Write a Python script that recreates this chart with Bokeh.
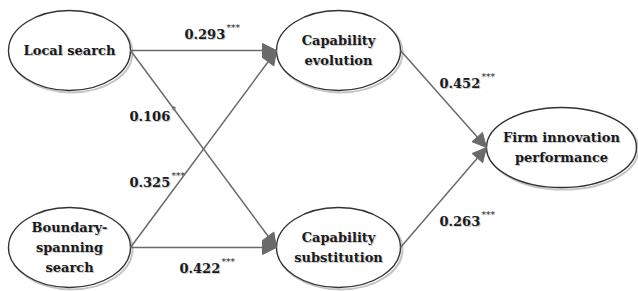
from bokeh.plotting import figure
from bokeh.models import Range1d, Arrow, NormalHead
from bokeh.core.properties import value
from bokeh.embed import file_html
from bokeh.resources import INLINE

# ---- data ----
nodes = ["Local search", "Boundary-\nspanning\nsearch", "Capability\nevolution",
         "Capability\nsubstitution", "Firm innovation\nperformance"]
edge_src = [0, 0, 1, 1, 2, 3]
edge_dst = [2, 3, 2, 3, 4, 4]
coef = ["0.293", "0.106", "0.325", "0.422", "0.452", "0.263"]
sig = ["***", "*", "***", "***", "***", "***"]

# ---- layout (pixel-like units, y downward) ----
node_x = [69, 69, 338, 338, 561]
node_y = [50, 247, 50, 247, 147]
node_w = [122, 122, 124, 124, 150]
node_h = [80, 80, 80, 80, 80]
label_x = [184, 129, 129, 179, 439, 439]
label_y = [33, 115, 181, 267, 82, 220]

FONT = value("DejaVu Serif")
TXT = "#1a1a1a"
SHADOW = "#cccccc"
LINE = "#6a6a6a"

p = figure(width=638, height=291, output_backend="svg", toolbar_location=None,
           x_range=Range1d(0, 638), y_range=Range1d(291, 0), min_border=0)
p.axis.visible = False
p.grid.visible = False
p.outline_line_color = None
p.background_fill_color = "white"

# ellipse shadows and ellipses
p.ellipse(x=[x + 2 for x in node_x], y=[y + 2 for y in node_y], width=node_w, height=node_h,
          fill_color=None, line_color="#c4c4c4", line_width=2)
p.ellipse(x=node_x, y=node_y, width=node_w, height=node_h,
          fill_color="white", line_color="#333333", line_width=1.4)

# arrows
for s, d in zip(edge_src, edge_dst):
    xs = node_x[s] + node_w[s] / 2
    ys = node_y[s]
    xe = node_x[d] - node_w[d] / 2
    ye = node_y[d]
    p.add_layout(Arrow(end=NormalHead(size=14, fill_color=LINE, line_color=LINE),
                       x_start=xs, y_start=ys, x_end=xe, y_end=ye,
                       line_color=LINE, line_width=1.5))

# node labels
lx, ly, lt = [], [], []
for name, cx, cy in zip(nodes, node_x, node_y):
    lines = name.split("\n")
    n = len(lines)
    for i, t in enumerate(lines):
        lx.append(cx)
        ly.append(cy + (i - (n - 1) / 2) * 20)
        lt.append(t)
p.text(x=[x + 1 for x in lx], y=[y + 1 for y in ly], text=lt, text_font=FONT,
       text_font_style="bold", text_font_size="13px", text_color=SHADOW,
       text_align="center", text_baseline="middle")
p.text(x=lx, y=ly, text=lt, text_font=FONT, text_font_style="bold",
       text_font_size="13px", text_color=TXT, text_align="center", text_baseline="middle")

# coefficient labels
p.text(x=[x + 1 for x in label_x], y=[y + 1 for y in label_y], text=coef, text_font=FONT,
       text_font_style="bold", text_font_size="13px", text_color=SHADOW,
       text_align="left", text_baseline="middle")
p.text(x=label_x, y=label_y, text=coef, text_font=FONT, text_font_style="bold",
       text_font_size="13px", text_color=TXT, text_align="left", text_baseline="middle")
p.text(x=[x + 42 for x in label_x], y=[y - 6 for y in label_y], text=sig, text_font=FONT,
       text_font_size="9px", text_color=TXT, text_align="left", text_baseline="middle")

open("out.html", "w").write(file_html(p, INLINE))
